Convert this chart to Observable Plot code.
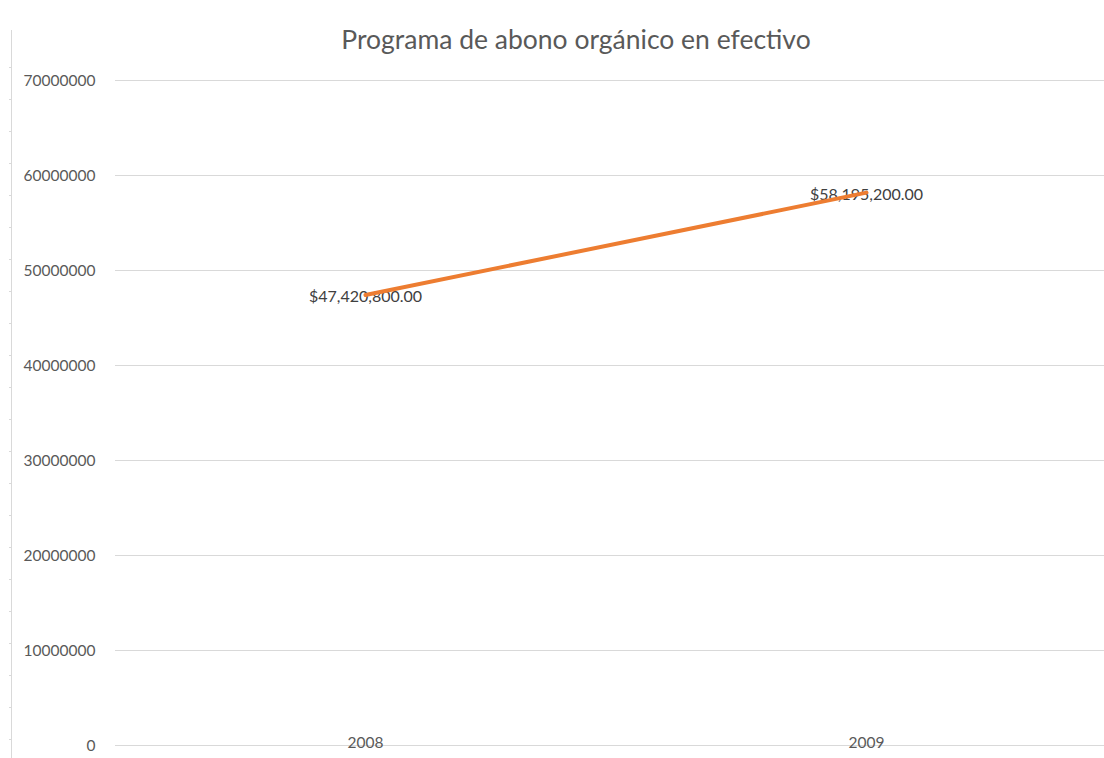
<!DOCTYPE html>
<html>
<head>
<meta charset="utf-8">
<script src="https://cdn.jsdelivr.net/npm/d3@7"></script>
<script src="https://cdn.jsdelivr.net/npm/@observablehq/plot@0.6"></script>
<style>
  html, body { margin: 0; padding: 0; background: #fff; }
  #wrap { position: relative; width: 1104px; height: 758px; overflow: hidden; font-family: Lato, "Open Sans", sans-serif; }
  #title { position: absolute; top: 23px; left: 0; width: 1152px; text-align: center; font-size: 26.5px; color: #595959; }
  #edge { position: absolute; left: 11px; top: 30px; width: 1px; height: 728px; background: #d9d9d9; }
  #edgeTicks { position: absolute; left: 9px; top: 36px; width: 3px; height: 722px;
          background: repeating-linear-gradient(to bottom, transparent 0 31px, #d9d9d9 31px 32px); }
  #chart { position: absolute; top: 65px; left: 0; }
</style>
</head>
<body>
<div id="wrap">
  <div id="edge"></div>
  <div id="edgeTicks"></div>
  <div id="title">Programa de abono orgánico en efectivo</div>
  <div id="chart"></div>
</div>
<script>
const years = ["2008", "2009"];
const amounts = [47420800, 58195200];
const labels = ["$47,420,800.00", "$58,195,200.00"];
const yTicks = [0, 10000000, 20000000, 30000000, 40000000, 50000000, 60000000, 70000000];

const data = years.map((y, i) => ({year: y, value: amounts[i], label: labels[i]}));

const chart = Plot.plot({
  width: 1104,
  height: 693,
  marginLeft: 115,
  marginRight: 0,
  marginTop: 15,
  marginBottom: 13,
  style: {fontFamily: "Lato, 'Open Sans', sans-serif", fontSize: "15px", color: "#595959", background: "transparent"},
  x: {type: "point", domain: years, range: [365, 866], padding: 0, label: null},
  y: {domain: [0, 70000000], label: null},
  marks: [
    Plot.gridY(yTicks, {stroke: "#d9d9d9", strokeOpacity: 1, strokeWidth: 1}),
    Plot.axisY({ticks: yTicks, tickSize: 0, tickPadding: 20, tickFormat: d => String(d), label: null, fill: "#595959", fontSize: 15.5, dy: 1}),
    Plot.axisX({tickSize: 0, tickPadding: 0, dy: -9, label: null, fill: "#595959", fontSize: 15.5}),
    Plot.text(data, {x: "year", y: "value", text: "label", fill: "#404040", fontSize: 16, dy: 2}),
    Plot.line(data, {x: "year", y: "value", stroke: "#ED7D31", strokeWidth: 4, strokeLinecap: "round"})
  ]
});
document.getElementById("chart").appendChild(chart);
</script>
</body>
</html>
